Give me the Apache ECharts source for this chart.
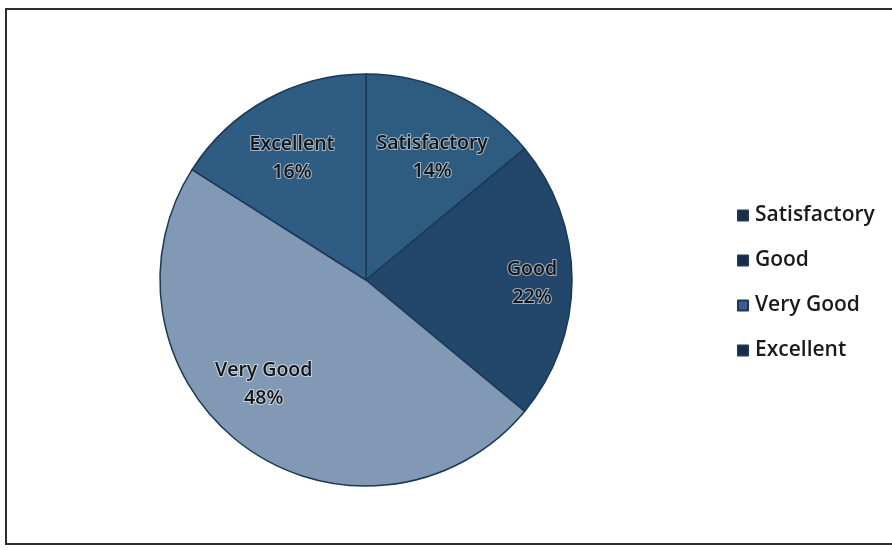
<!DOCTYPE html>
<html>
<head>
<meta charset="utf-8">
<script src="https://cdn.jsdelivr.net/npm/echarts@6/dist/echarts.min.js"></script>
<style>
html,body{margin:0;padding:0;background:#fff;overflow:hidden;width:892px;height:550px;}
#frame{position:absolute;left:5px;top:8px;width:920px;height:537px;border:2px solid #2a2f36;box-sizing:border-box;}
#chart{position:absolute;left:0;top:0;width:892px;height:550px;}
</style>
</head>
<body>
<div id="frame"></div>
<div id="chart"></div>
<script>
const categories = ['Satisfactory', 'Good', 'Very Good', 'Excellent'];
const values = [14, 22, 48, 16];
const sliceColors = ['#2e5b80', '#22476b', '#8299b6', '#2f5c82'];
const legendColors = ['#1d2c45', '#1b2a44', '#3d5d92', '#1c2b44'];
const labelShift = [[21, -27], [60, 3], [-40, 19], [-23, -29]];

const chart = echarts.init(document.getElementById('chart'), null, {renderer: 'canvas'});
chart.setOption({
  animation: false,
  backgroundColor: 'transparent',
  legend: {
    orient: 'vertical',
    left: 732,
    top: 200,
    icon: 'rect',
    itemWidth: 10,
    itemHeight: 10,
    itemGap: 24,
    textStyle: {fontFamily: 'Open Sans', fontSize: 21, fontWeight: 600, color: '#1a1a1a', padding: [0, 0, 0, 2]},
    data: categories.map((c, i) => ({name: c, itemStyle: {color: legendColors[i]}}))
  },
  series: [{
    type: 'pie',
    center: [366, 280],
    radius: 206,
    startAngle: 90,
    clockwise: true,
    itemStyle: {borderColor: '#1b3856', borderWidth: 1.5},
    label: {
      position: 'inside',
      formatter: p => p.name + '\n' + p.value + '%',
      fontFamily: 'Open Sans',
      fontSize: 19.5,
      fontWeight: 600,
      lineHeight: 28,
      color: '#141414',
      textBorderColor: 'rgba(255,255,255,0.55)',
      textBorderWidth: 2
    },
    labelLayout: function (params) {
      const s = labelShift[params.dataIndex];
      return {dx: s[0], dy: s[1]};
    },
    emphasis: {disabled: true},
    data: categories.map((c, i) => ({name: c, value: values[i], itemStyle: {color: sliceColors[i]}}))
  }]
});
</script>
</body>
</html>
